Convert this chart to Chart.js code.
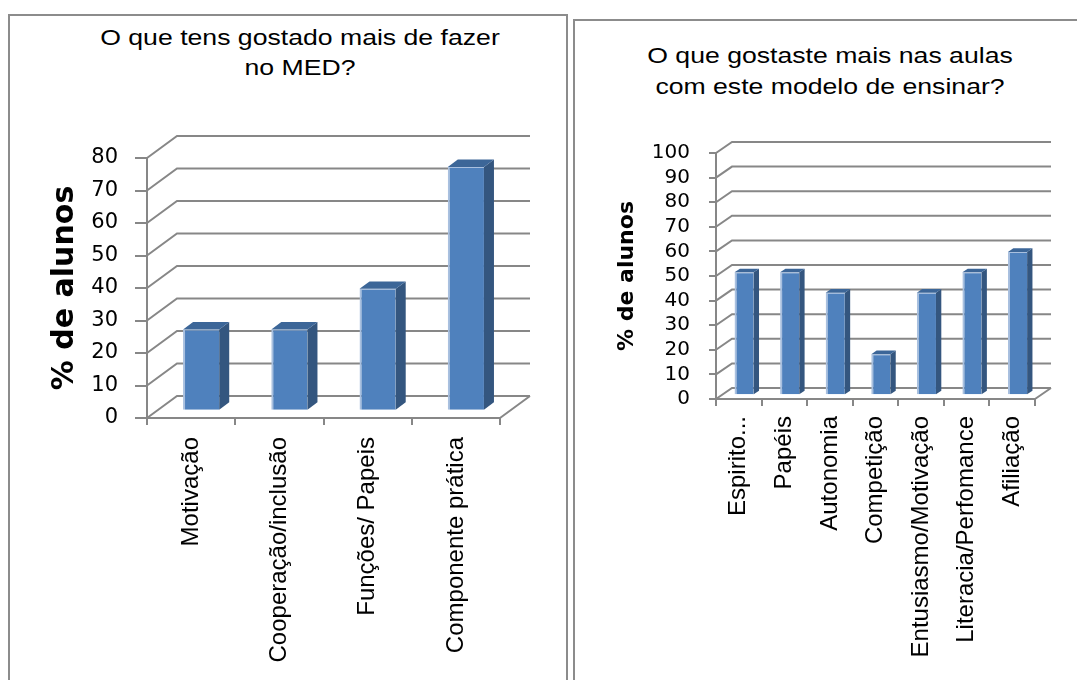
<!DOCTYPE html>
<html>
<head>
    <meta charset="utf-8">
    <title>O que tens gostado mais de fazer no MED?</title>
    <script src="https://cdn.jsdelivr.net/npm/chart.js"></script>
    <style>
        body {
            margin: 0;
            width: 1077px;
            height: 680px;
            overflow: hidden;
            background: #fff;
            position: relative;
            font-family: "Liberation Sans", Arial, sans-serif;
        }
        .panel {
            position: absolute;
            border: 2px solid #8c8c8c;
            background: #fff;
        }
        #p1 { left: 8px; top: 14px; width: 556px; height: 700px; }
        #p2 { left: 573px; top: 19px; width: 530px; height: 700px; }
        .title {
            position: absolute;
            width: 400px;
            text-align: center;
            font-size: 22px;
            line-height: 30px;
            color: #000;
            transform: scaleX(1.21);
            transform-origin: 50% 0;
            white-space: nowrap;
        }
        #t1 { left: 90px; top: 7px; }
        #t2 { left: 55px; top: 19px; line-height: 31px; }
        canvas { position: absolute; left: 0; }
        #medChart { top: 74px; }
        #aulasChart { top: 79px; }
    </style>
</head>
<body>
    <div class="panel" id="p1">
        <div class="title" id="t1">O que tens gostado mais de fazer<br>no MED?</div>
        <canvas id="medChart" width="556" height="590"></canvas>
    </div>
    <div class="panel" id="p2">
        <div class="title" id="t2">O que gostaste mais nas aulas<br>com este modelo de ensinar?</div>
        <canvas id="aulasChart" width="502" height="580"></canvas>
    </div>
    <script>
        // dados (% de alunos)
        const medLabels = ['Motivação', 'Cooperação/inclusão', 'Funções/ Papeis', 'Componente prática'];
        const medValues = [25, 25, 37.5, 75];
        const medMax = 80;

        const aulasLabels = ['Espirito...', 'Papéis', 'Autonomia', 'Competição', 'Entusiasmo/Motivação', 'Literacia/Perfomance', 'Afiliação'];
        const aulasValues = [50, 50, 41.7, 16.7, 41.7, 50, 58.3];
        const aulasMax = 100;

        const yTitle = '% de alunos';
        const gray = '#878787';

        // fake 3d: back wall, side wall, floor and bar faces
        const fake3d = {
            id: 'fake3d',
            beforeDatasetsDraw(chart, args, opts) {
                const ctx = chart.ctx, a = chart.chartArea, y = chart.scales.y;
                const dx = opts.dx, dy = opts.dy;
                ctx.save();
                ctx.strokeStyle = gray;
                ctx.lineWidth = 2;
                ctx.beginPath();
                y.ticks.forEach(t => {
                    const py = y.getPixelForValue(t.value);
                    ctx.moveTo(a.left, py);
                    ctx.lineTo(a.left + dx, py + dy);
                    ctx.lineTo(a.right + dx, py + dy);
                });
                const p0 = y.getPixelForValue(0);
                ctx.moveTo(a.right, p0);
                ctx.lineTo(a.right + dx, p0 + dy);
                ctx.stroke();
                ctx.restore();
                // bars stand a third of the way into the depth
                ctx.save();
                ctx.translate(dx / 3, dy / 3);
            },
            afterDatasetsDraw(chart, args, opts) {
                const ctx = chart.ctx;
                const bx = opts.dx / 3, by = opts.dy / 3;
                chart.getDatasetMeta(0).data.forEach(bar => {
                    const p = bar.getProps(['x', 'y', 'base', 'width'], true);
                    const l = p.x - p.width / 2, r = p.x + p.width / 2;
                    ctx.fillStyle = '#34567f';
                    ctx.beginPath();
                    ctx.moveTo(r, p.y);
                    ctx.lineTo(r + bx, p.y + by);
                    ctx.lineTo(r + bx, p.base + by);
                    ctx.lineTo(r, p.base);
                    ctx.closePath();
                    ctx.fill();
                    ctx.fillStyle = '#3c6698';
                    ctx.beginPath();
                    ctx.moveTo(l, p.y);
                    ctx.lineTo(l + bx, p.y + by);
                    ctx.lineTo(r + bx, p.y + by);
                    ctx.lineTo(r, p.y);
                    ctx.closePath();
                    ctx.fill();
                });
                ctx.restore();
            }
        };

        function makeChart(id, labels, values, max, s) {
            return new Chart(document.getElementById(id), {
                type: 'bar',
                data: {
                    labels: labels,
                    datasets: [{
                        data: values,
                        backgroundColor: '#4f81bd',
                        borderColor: '#a9c0df',
                        borderWidth: { left: 2, top: 1, right: 0, bottom: 0 },
                        borderSkipped: false,
                        categoryPercentage: 1,
                        barPercentage: s.bar,
                        clip: false
                    }]
                },
                options: {
                    responsive: false,
                    animation: false,
                    devicePixelRatio: 1,
                    layout: { padding: { top: s.top, right: s.right, left: 0, bottom: 0 } },
                    plugins: {
                        legend: { display: false },
                        title: { display: false },
                        tooltip: { enabled: false },
                        fake3d: { dx: s.dx, dy: s.dy }
                    },
                    scales: {
                        x: {
                            offset: true,
                            afterFit: sc => { sc.height = s.xh; },
                            grid: { display: true, drawOnChartArea: false, drawTicks: true, tickLength: 7, offset: true, color: gray, lineWidth: 2 },
                            border: { display: true, color: gray, width: 2 },
                            ticks: {
                                autoSkip: false, minRotation: 90, maxRotation: 90, padding: s.xpad,
                                color: '#000', font: { family: 'Liberation Sans', size: 24 }
                            }
                        },
                        y: {
                            min: 0, max: max,
                            afterFit: sc => { sc.width = s.yw; },
                            grid: { display: true, drawOnChartArea: false, drawTicks: true, tickLength: s.tl, color: gray, lineWidth: 2 },
                            border: { display: true, color: gray, width: 2 },
                            ticks: {
                                stepSize: 10, autoSkip: false, padding: s.ypad, color: '#000',
                                font: { family: 'DejaVu Sans', size: s.tick }
                            },
                            title: {
                                display: true, text: yTitle, color: '#000',
                                font: { family: 'DejaVu Sans', weight: 'bold', size: s.ts, lineHeight: 1 },
                                padding: { top: s.tp, bottom: 0 }
                            }
                        }
                    }
                },
                plugins: [fake3d]
            });
        }

        makeChart('medChart', medLabels, medValues, medMax,
            { bar: 0.41, top: 68, right: 66, xh: 262, yw: 137, dx: 30, dy: -22, tl: 12, xpad: 12, ypad: 17, tick: 21, ts: 30, tp: 40 });
        makeChart('aulasChart', aulasLabels, aulasValues, aulasMax,
            { bar: 0.42, top: 53, right: 42, xh: 281, yw: 141, dx: 16, dy: -11, tl: 7, xpad: 10, ypad: 19, tick: 20, ts: 22, tp: 41 });
    </script>
</body>
</html>
